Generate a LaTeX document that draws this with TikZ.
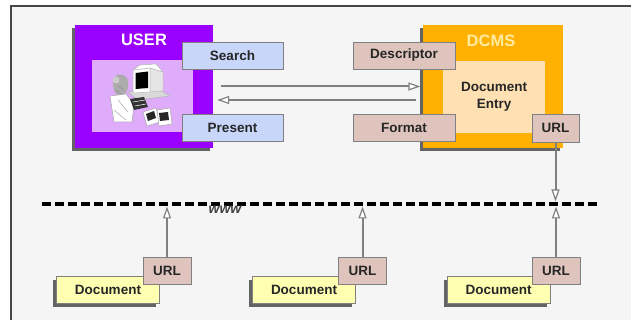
\documentclass[tikz,border=0pt]{standalone}
\usepackage{fontspec}
\setmainfont{Liberation Sans}
\usetikzlibrary{arrows.meta,shadows}

\definecolor{panel}{RGB}{245,245,245}
\definecolor{frameline}{RGB}{70,70,70}
\definecolor{userviolet}{RGB}{153,0,255}
\definecolor{userinner}{RGB}{222,172,250}
\definecolor{querybox}{RGB}{200,214,250}
\definecolor{dcmsorange}{RGB}{255,176,0}
\definecolor{entryfill}{RGB}{255,224,178}
\definecolor{tagfill}{RGB}{222,196,188}
\definecolor{docfill}{RGB}{255,255,178}
\definecolor{edgegray}{RGB}{128,128,128}
\definecolor{shade}{RGB}{100,100,100}
\definecolor{dcmslabel}{RGB}{255,236,160}

\tikzset{
  x=1pt, y=-1pt,
  labelfont/.style={font=\fontsize{13.5}{17}\selectfont\bfseries},
  shadowed/.style={drop shadow={shadow xshift=-3.5pt, shadow yshift=-3.5pt,
      fill=shade, opacity=1}},
  panelbox/.style={draw=none, inner sep=0pt, shadowed},
  title/.style={font=\fontsize{16.5}{20}\selectfont\bfseries, inner sep=0pt},
  tag/.style={labelfont, draw=edgegray, line width=0.8pt, fill=tagfill,
      text=black!85, inner sep=0pt, minimum height=27pt},
  query/.style={tag, fill=querybox, minimum width=101pt},
  doc/.style={tag, fill=docfill, shadowed, minimum width=103pt},
  urltag/.style={tag, minimum width=48pt},
  conn/.style={draw=edgegray, line width=2pt,
      -{Triangle[length=12pt, width=8pt, fill=white, line width=1.2pt]}},
}

\begin{document}
\begin{tikzpicture}
\useasboundingbox (0,0) rectangle (631,320);
\fill[white] (0,0) rectangle (631,320);
\fill[panel] (11,6) rectangle (631,320);
\draw[frameline, line width=1.2pt] (11,320) -- (11,6) -- (631,6);

% ---------- user side ----------
\node[panelbox, fill=userviolet, minimum width=138pt, minimum height=123pt]
  (user) at (144,86.5) {};
\node[title, text=white] (userlabel) at (144,40) {USER};
\node[fill=userinner, inner sep=0pt, minimum width=101pt, minimum height=72pt]
  (station) at (142.5,96) {};

% workstation sketch
\begin{scope}
  % person
  \fill[gray!65] (113,82) .. controls (112,74) and (122,72) .. (127,78)
      .. controls (130,84) and (128,94) .. (121,96)
      .. controls (115,96) and (113,90) .. (113,82) -- cycle;
  \fill[gray!40] (116,80) circle (3.5);
  \draw[gray!85, line width=0.6pt] (118,86) -- (124,90) (116,90) -- (121,94);
  \filldraw[fill=white, draw=gray!70, line width=0.5pt]
      (110,96) -- (126,94) -- (134,104) -- (132,122) -- (114,122) -- cycle;
  \draw[gray!70, line width=0.5pt] (118,100) -- (128,112) (114,110) -- (126,120);
  % desk slab
  \filldraw[fill=gray!30, draw=gray!60, line width=0.5pt]
      (128,92) -- (160,90) -- (170,96) -- (138,100) -- cycle;
  % monitor
  \filldraw[fill=white, draw=gray!55, line width=0.5pt]
      (133,70) -- (150,68) -- (150,92) -- (133,93) -- cycle;
  \filldraw[fill=gray!20, draw=gray!55, line width=0.5pt]
      (150,68) -- (163,72) -- (163,91) -- (150,92) -- cycle;
  \filldraw[fill=white, draw=gray!55, line width=0.5pt]
      (133,70) -- (140,65) -- (156,64) -- (163,72) -- (150,68) -- cycle;
  \fill[black] (135.5,73) -- (148,71.5) -- (148,88) -- (135.5,89) -- cycle;
  % keyboard
  \fill[black!80] (130,99) -- (144,97) -- (148,107) -- (134,110) -- cycle;
  \draw[white, line width=0.5pt] (133,102) -- (145,100) (135,106) -- (146,104);
  % photo cards
  \filldraw[fill=white, draw=gray!70, line width=0.5pt]
      (143,112) -- (156,108) -- (160,122) -- (147,126) -- cycle;
  \fill[black!85] (146,114) -- (154,111) -- (156,118) -- (148,121) -- cycle;
  \filldraw[fill=white, draw=gray!70, line width=0.5pt]
      (157,110) -- (170,108) -- (172,124) -- (159,126) -- cycle;
  \fill[black!85] (159,113) -- (168,112) -- (169,120) -- (160,121) -- cycle;
\end{scope}

\node[query] (search) at (232.5,56) {Search};
\node[query] (present) at (232.5,127.5) {Present};

% ---------- DCMS side ----------
\node[panelbox, fill=dcmsorange, minimum width=140pt, minimum height=123pt]
  (dcms) at (493,86.5) {};
\node[title, text=dcmslabel] (dcmslabel) at (491,40.5) {DCMS};
\node[labelfont, fill=entryfill, text=black!85, align=center, inner sep=0pt,
  minimum width=102pt, minimum height=72pt] (entry) at (494,97) {Document\\Entry};
\node[tag, minimum width=102pt] (descriptor) at (404,55.5) {Descriptor};
\node[tag, minimum width=102pt] (format) at (404,127.5) {Format};
\node[urltag, minimum width=47pt, minimum height=28pt] (dcmsurl) at (555.5,128) {URL};

% requests and replies between the two sides
\draw[conn] ([xshift=8pt]user.east) -- ([xshift=-2.5pt]dcms.west);
\draw[conn] ([xshift=-7pt,yshift=-13.5pt]dcms.west)
  -- ([xshift=4pt,yshift=-13.5pt]user.east);

% ---------- the web ----------
\coordinate (wwwL) at (42,204);
\coordinate (wwwR) at (600,204);
\draw[black, line width=4.5pt, dash pattern=on 9pt off 4pt] (wwwL) -- (wwwR);
\node[font=\fontsize{14}{16}\selectfont\bfseries\itshape, text=black!75,
  inner sep=0pt] (www) at (225,209.5) {www};

\node[doc] (doc1) at (108,289.5) {Document};
\node[urltag] (url1) at (167,270.5) {URL};
\node[doc] (doc2) at (304,289.5) {Document};
\node[urltag] (url2) at (362.5,270.5) {URL};
\node[doc] (doc3) at (498.5,289.5) {Document};
\node[urltag] (url3) at (556,270.5) {URL};

\draw[conn, shorten >=2.5pt] (url1.north) -- (url1.north |- wwwL);
\draw[conn, shorten >=2.5pt] (url2.north) -- (url2.north |- wwwL);
\draw[conn, shorten >=2.5pt] (url3.north) -- (url3.north |- wwwL);
\draw[conn, shorten >=2.5pt] (dcmsurl.south) -- (dcmsurl.south |- wwwL);
\end{tikzpicture}
\end{document}
